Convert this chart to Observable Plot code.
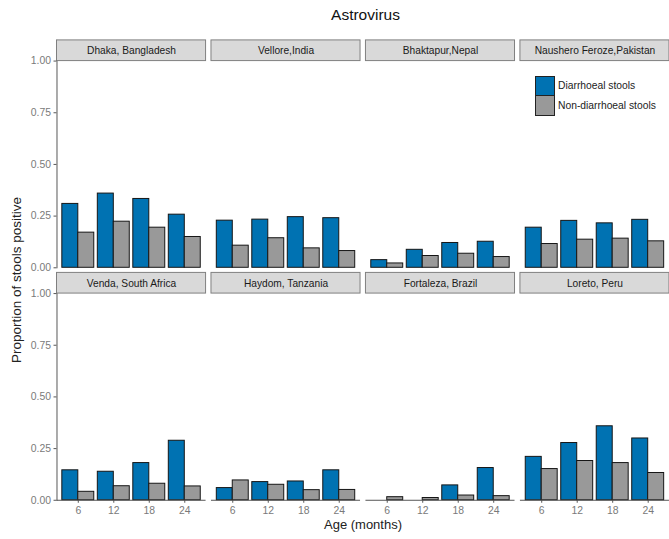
<!DOCTYPE html>
<html>
<head>
<meta charset="utf-8">
<script src="https://cdn.jsdelivr.net/npm/d3@7"></script>
<script src="https://cdn.jsdelivr.net/npm/@observablehq/plot@0.6"></script>
<style>
  html, body { margin: 0; padding: 0; background: #fff; overflow: hidden; }
  #wrap { position: relative; width: 669px; height: 539px; overflow: hidden; font-family: "Liberation Sans", Arial, sans-serif; }
  #title { height: 30px; line-height: 30px; text-align: center; font-size: 15.5px; color: #111; padding-left: 62px; }
  #chart svg { display: block; }
  #ytitle { position: absolute; left: 16px; top: 280px; transform: translate(-50%, -50%) rotate(-90deg); white-space: nowrap; font-size: 13.5px; color: #222; }
  #xtitle { position: absolute; left: 363px; top: 524px; transform: translate(-50%, -50%); white-space: nowrap; font-size: 13px; color: #222; }
  #legend { position: absolute; left: 535px; top: 76px; font-size: 10.3px; color: #222; }
  .key { display: flex; align-items: center; height: 19.5px; }
  .sw { width: 18px; height: 18.5px; border: 1px solid #222; margin-right: 3px; box-sizing: content-box; }
  .sw.b { background: #0072B2; border-bottom-width: 0.5px; }
  .sw.g { background: #999999; border-top-width: 0.5px; }
</style>
</head>
<body>
<div id="wrap">
  <div id="title">Astrovirus</div>
  <div id="chart"></div>
  <div id="ytitle">Proportion of stools positive</div>
  <div id="xtitle">Age (months)</div>
  <div id="legend">
    <div class="key"><div class="sw b"></div><span>Diarrhoeal stools</span></div>
    <div class="key"><div class="sw g"></div><span>Non-diarrhoeal stools</span></div>
  </div>
</div>
<script>
// Study sites, in panel order (four per row)
const sites = [
  "Dhaka, Bangladesh", "Vellore,India", "Bhaktapur,Nepal", "Naushero Feroze,Pakistan",
  "Venda, South Africa", "Haydom, Tanzania", "Fortaleza, Brazil", "Loreto, Peru"
];

// Age at stool collection (months)
const ages = [6, 12, 18, 24];

// Proportion of diarrhoeal stools positive for astrovirus, by site and age
const diarrhoeal = [
  [0.309, 0.359, 0.333, 0.257],
  [0.228, 0.233, 0.245, 0.240],
  [0.037, 0.087, 0.120, 0.126],
  [0.194, 0.227, 0.215, 0.232],
  [0.145, 0.138, 0.180, 0.288],
  [0.059, 0.088, 0.091, 0.145],
  [0.000, 0.000, 0.072, 0.156],
  [0.210, 0.277, 0.358, 0.299]
];

// Proportion of non-diarrhoeal (surveillance) stools positive, by site and age
const nonDiarrhoeal = [
  [0.170, 0.223, 0.194, 0.149],
  [0.107, 0.143, 0.094, 0.081],
  [0.021, 0.057, 0.068, 0.052],
  [0.115, 0.136, 0.141, 0.128],
  [0.041, 0.068, 0.080, 0.067],
  [0.096, 0.075, 0.049, 0.050],
  [0.015, 0.011, 0.023, 0.020],
  [0.151, 0.190, 0.180, 0.132]
];

const yTicks = [0, 0.25, 0.5, 0.75, 1];

const panels = sites.map((site, i) => ({site, col: i % 4, row: Math.floor(i / 4)}));
const rows = panels.flatMap((p, i) => ages.map((age, j) => ({
  ...p, age, diarrhoeal: diarrhoeal[i][j], nonDiarrhoeal: nonDiarrhoeal[i][j]
})));

const half = 16.1; // half of each age group's width: one bar per stool type

const chart = Plot.plot({
  width: 675,
  height: 514,
  marginTop: 10,
  marginBottom: 40,
  marginLeft: 57,
  marginRight: 0,
  style: {fontFamily: "'Liberation Sans', Arial, sans-serif", background: "white", overflow: "visible"},
  fx: {axis: null, domain: [0, 1, 2, 3], paddingInner: 0.035, paddingOuter: 0, round: false},
  fy: {axis: null, domain: [0, 1], paddingInner: 0.022, paddingOuter: 0, round: false},
  x: {domain: ages, paddingInner: 0.1, paddingOuter: 0.15, round: false},
  y: {domain: [0, 1.1]},
  marks: [
    // left axis line on the first column
    Plot.frame({anchor: "left", facetAnchor: "left", stroke: "#555"}),
    // bars
    Plot.barY(rows, {fx: "col", fy: "row", x: "age", y: "diarrhoeal", fill: "#0072B2", stroke: "#151515", strokeWidth: 1, insetRight: half}),
    Plot.barY(rows, {fx: "col", fy: "row", x: "age", y: "nonDiarrhoeal", fill: "#999999", stroke: "#151515", strokeWidth: 1, insetLeft: half}),
    // x baseline on the bottom row
    Plot.ruleY([0], {facetAnchor: "bottom", stroke: "#555"}),
    // facet strips
    Plot.barY(panels, {fx: "col", fy: "row", y1: 1, y2: 1.1, fill: "#d9d9d9", stroke: "#7f7f7f", strokeWidth: 1}),
    Plot.text(panels, {fx: "col", fy: "row", y: 1.05, text: "site", fontSize: 10.3, fill: "#1a1a1a"}),
    // axes
    Plot.axisY({ticks: yTicks, tickFormat: d3.format(".2f"), tickSize: 3, tickPadding: 3, fontSize: 10.5, fill: "#7a7a7a", stroke: "#555", label: null}),
    Plot.axisX({tickSize: 3, tickPadding: 3, fontSize: 10.5, fill: "#7a7a7a", stroke: "#555", label: null})
  ]
});

document.getElementById("chart").append(chart);
</script>
</body>
</html>
